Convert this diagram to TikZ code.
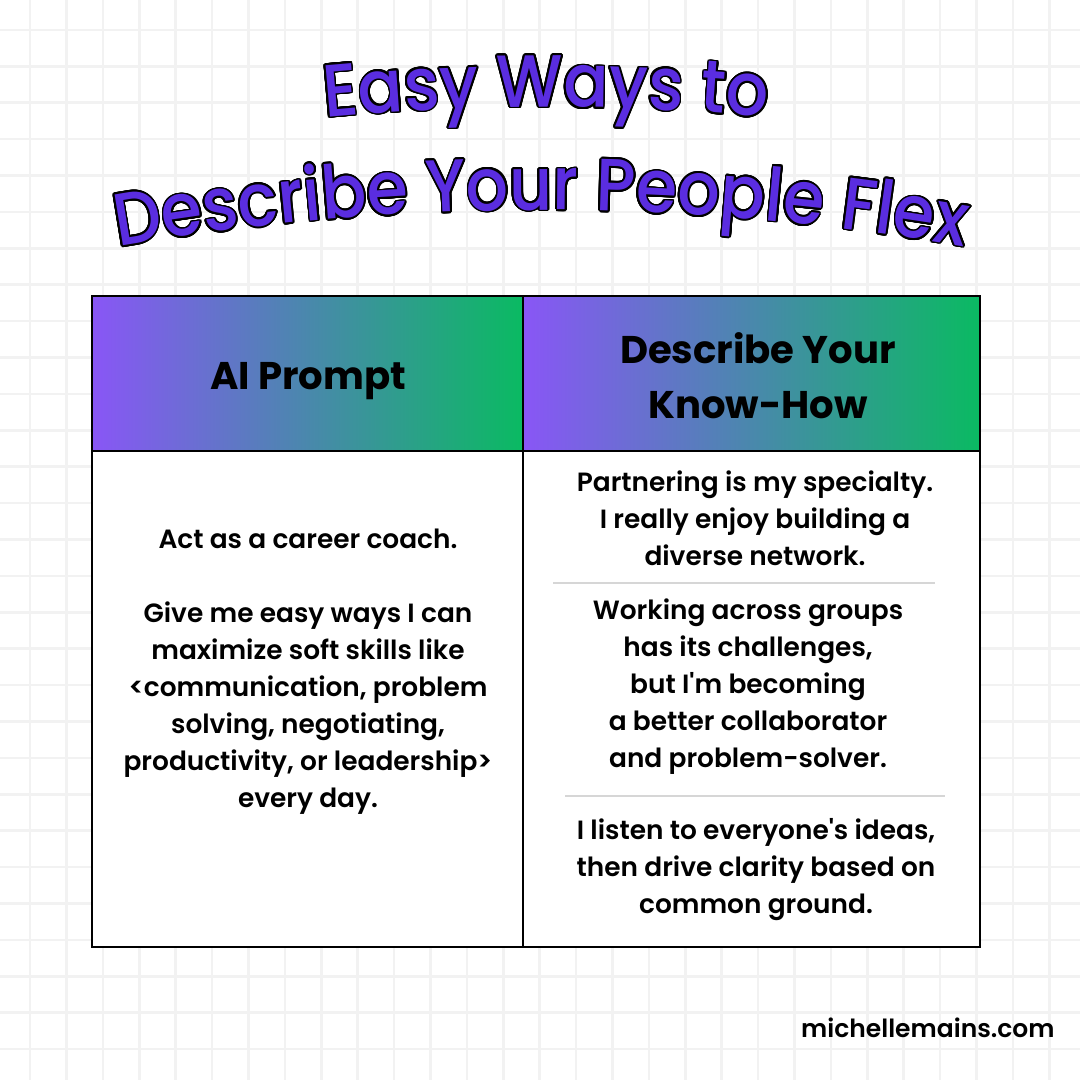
\documentclass[tikz,border=0pt]{standalone}
\usepackage{fontspec}
\usepackage{contour}
\usetikzlibrary{decorations.text}
\newfontfamily\titlefont[FakeStretch=0.9]{Poppins Medium}
\newfontfamily\headfont{Poppins Bold}
\newfontfamily\bodyfont{Poppins SemiBold}
\definecolor{gridgray}{HTML}{F2F2F2}
\definecolor{titlepurple}{HTML}{5A2DE0}
\definecolor{headpurple}{HTML}{8956F6}
\definecolor{headgreen}{HTML}{0ABA62}
\definecolor{rulegray}{HTML}{D6D6D6}
\contourlength{0.85pt}
\contournumber{24}
\newcommand{\titlechar}[1]{\contour{black}{#1}}

\begin{document}
\begin{tikzpicture}[
        x=0.5pt,
        y=0.5pt,
        gridline/.style={
            draw=gridgray,
            line width=1.3pt
        },
        cell/.style={
            inner sep=0pt,
            align=center,
            text=black
        },
        headtext/.style={
            cell,
            font=\headfont\fontsize{19.3}{27.5}\selectfont
        },
        bodytext/.style={
            cell,
            font=\bodyfont\fontsize{13.2}{18.5}\selectfont
        },
        sitetext/.style={
            cell,
            font=\bodyfont\fontsize{12.5}{18.5}\selectfont
        },
        rule/.style={
            draw=rulegray,
            line width=1pt
        },
        frame/.style={
            draw=black,
            line width=1pt
        },
        titleline/.style={
            decorate,
            decoration={
                text effects along path,
                text={#1},
                text align=center,
                text effects/.cd,
                text along path,
                character command=\titlechar,
                characters={font=\titlefont\fontsize{37}{37}\selectfont, text=titlepurple}
            }
        },
      ]
        \useasboundingbox (0,0) rectangle (1080,1080);
        \fill[white] (0,0) rectangle (1080,1080);
        \foreach \k in {0,...,28} {
            \draw[gridline] ({30+36.4*\k},0) -- ({30+36.4*\k},1080);
            \draw[gridline] (0,{1050-36.4*\k}) -- (1080,{1050-36.4*\k});
        }
        \path[titleline={Easy Ways to}] ([shift={(100:2357)}]546,-1384) arc[start angle=100, end angle=80, radius=2357];
        \path[titleline={Describe Your People Flex}] ([shift={(104:2460)}]541,-1590) arc[start angle=104, end angle=76, radius=2460];
        \fill[white] (92,133) rectangle (980,629);
        \shade[left color=headpurple, right color=headgreen] (92,629) rectangle (523,784);
        \shade[left color=headpurple, right color=headgreen] (523,629) rectangle (980,784);
        \node[headtext, anchor=base] (prompt-head) at (308,690) {AI Prompt};
        \node[headtext] (knowhow-head) at (758,704) {Describe Your\\Know-How};
        \node[bodytext] (prompt-body) at (308,408) {Act as a career coach.\\[18.5pt]Give me easy ways I can\\maximize soft skills like\\<communication, problem\\solving, negotiating,\\productivity, or leadership>\\every day.};
        \node[bodytext] (partnering) at (755,562) {Partnering is my specialty.\\I really enjoy building a\\diverse network.};
        \node[bodytext] (working) at (748,393) {Working across groups\\has its challenges,\\but I'm becoming\\a better collaborator\\and problem-solver.};
        \node[bodytext] (listen) at (756,210) {I listen to everyone's ideas,\\then drive clarity based on\\common ground.};
        \draw[rule] (553,497) -- (935,497);
        \draw[rule] (565,284) -- (945,284);
        \draw[frame] (92,133) rectangle (980,784);
        \draw[frame] (92,629) -- (980,629);
        \draw[frame] (523,133) -- (523,784);
        \node[sitetext, anchor=base east] (site) at (1055,42) {michellemains.com};
      \end{tikzpicture}
\end{document}
